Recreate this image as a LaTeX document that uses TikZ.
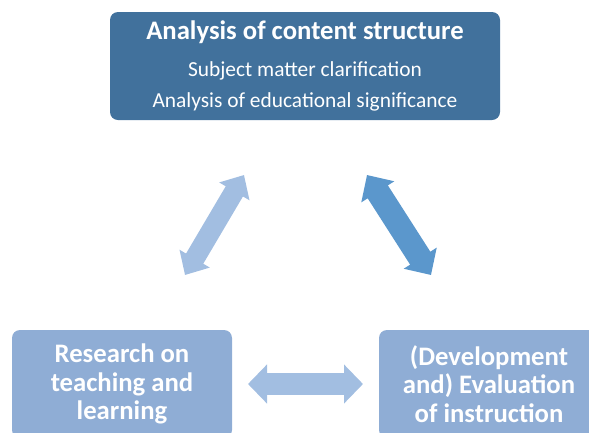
\documentclass[tikz,border=0pt]{standalone}
\usepackage{fontspec}
\setmainfont{Carlito}
\usepackage{tikz}
\usetikzlibrary{arrows.meta}
\definecolor{ContentBg}{HTML}{41719C}
\definecolor{SideBg}{HTML}{8FADD5}
\definecolor{ArrowLight}{HTML}{A2BEE1}
\definecolor{ArrowDark}{HTML}{5B97CC}
\newcommand{\topboxw}{390pt}
\newcommand{\sideboxw}{220pt}
\newcommand{\boxh}{108pt}
\newcommand{\titlefont}{\fontsize{26.7}{31}\selectfont\bfseries}
\newcommand{\subfont}{\fontsize{21.4}{31}\selectfont}
\newcommand{\sidefont}{\fontsize{26.7}{28.5}\selectfont\bfseries}

\begin{document}
\begin{tikzpicture}[x=1pt,y=-1pt,
    box/.style={rounded corners=8pt,text=white,align=center,
      minimum height=\boxh,inner sep=0pt},
    sidebox/.style={box,fill=SideBg,minimum width=\sideboxw,font=\sidefont}]
  \useasboundingbox (0,0) rectangle (589,432);
  % content structure box
  \node[box,fill=ContentBg,minimum width=\topboxw,font=\subfont]
    (content) at (305,66)
    {{\titlefont Analysis of content structure}\\[6pt]
     Subject matter clarification\\
     Analysis of educational significance};
  % research and instruction boxes
  \node[sidebox] (research) at (122,384)
    {Research on\\teaching and\\learning};
  \node[sidebox] (instruction) at (489,384)
    {(Development\\and) Evaluation\\of instruction};

  % arrow ends
  \coordinate (rl) at (185,275);
  \coordinate (rt) at (244,175);
  \coordinate (il) at (367,175);
  \coordinate (ib) at (431,275);
  \coordinate (ri) at (248,384);
  \coordinate (ir) at (363,384);

  \draw[line width=20pt,color=ArrowLight,
    {Triangle[width=34pt,length=19pt]}-{Triangle[width=34pt,length=19pt]}]
    (rl) -- (rt);
  \draw[line width=24pt,color=ArrowDark,
    {Triangle[width=38pt,length=20pt]}-{Triangle[width=38pt,length=20pt]}]
    (il) -- (ib);
  \draw[line width=22pt,color=ArrowLight,
    {Triangle[width=38pt,length=19pt]}-{Triangle[width=38pt,length=19pt]}]
    (ri) -- (ir);
\end{tikzpicture}
\end{document}
